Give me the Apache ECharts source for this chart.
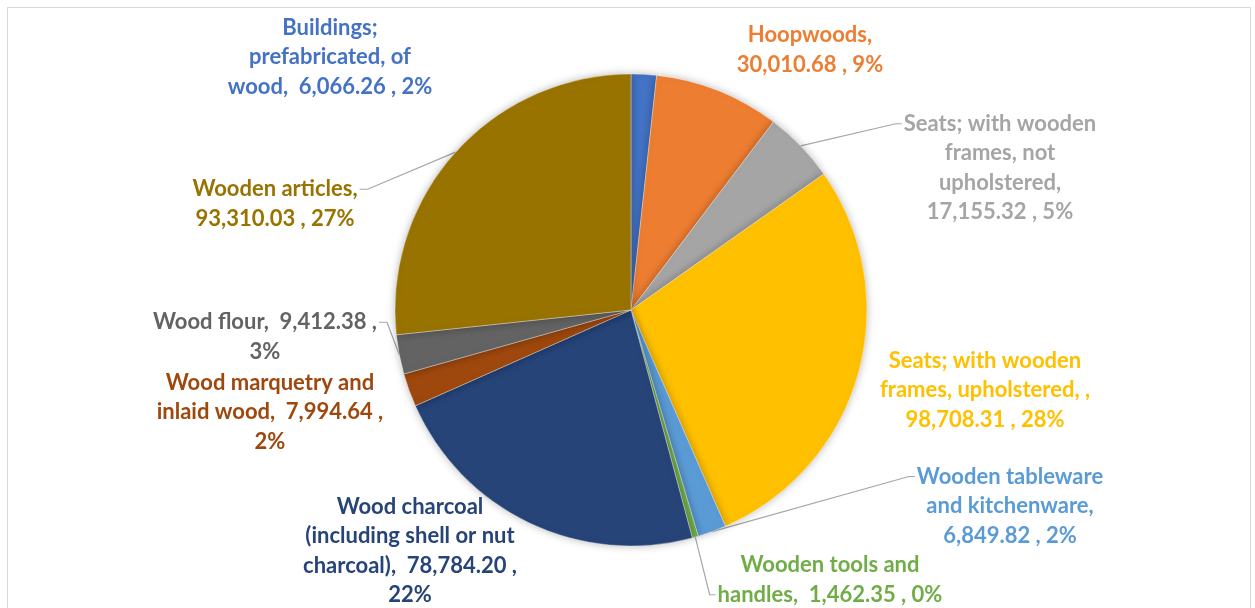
<!DOCTYPE html>
<html>
<head>
<meta charset="utf-8">
<style>
  html, body { margin: 0; padding: 0; background: #fff; }
  #frame { position: absolute; left: 7px; top: 7px; width: 1244px; height: 620px; border: 1px solid #d9d9d9; box-sizing: border-box; }
  #chart { position: absolute; left: 0; top: 0; width: 1255px; height: 608px; }
</style>
<script src="https://cdn.jsdelivr.net/npm/echarts@6/dist/echarts.min.js"></script>
</head>
<body>
<div id="frame"></div>
<div id="chart"></div>
<script>
// Wood products, value and share by category (clockwise from 12 o'clock)
const categories = [
  'Buildings; prefabricated, of wood',
  'Hoopwoods',
  'Seats; with wooden frames, not upholstered',
  'Seats; with wooden frames, upholstered,',
  'Wooden tableware and kitchenware',
  'Wooden tools and handles',
  'Wood charcoal (including shell or nut charcoal)',
  'Wood marquetry and inlaid wood',
  'Wood flour',
  'Wooden articles'
];
const values = [6066.26, 30010.68, 17155.32, 98708.31, 6849.82, 1462.35, 78784.20, 7994.64, 9412.38, 93310.03];
const colors = ['#4472C4', '#ED7D31', '#A5A5A5', '#FFC000', '#5B9BD5', '#70AD47', '#264478', '#9E480E', '#636363', '#997300'];

// Label wording with line breaks; {v} = value, {p} = percent
const labelTemplates = [
  'Buildings;\nprefabricated, of\nwood,  {v} , {p}%',
  'Hoopwoods,\n{v} , {p}%',
  'Seats; with wooden\nframes, not\nupholstered,\n{v} , {p}%',
  'Seats; with wooden\nframes, upholstered, ,\n{v} , {p}%',
  'Wooden tableware\nand kitchenware,\n{v} , {p}%',
  'Wooden tools and\nhandles,  {v} , {p}%',
  'Wood charcoal\n(including shell or nut\ncharcoal),  {v} ,\n{p}%',
  'Wood marquetry and\ninlaid wood,  {v} ,\n{p}%',
  'Wood flour,  {v} ,\n{p}%',
  'Wooden articles,\n{v} , {p}%'
];
// Label centre points (px)
const labelAnchors = [
  [330, 57], [810, 50], [1000, 168], [985, 390], [1010, 506],
  [830, 580], [410, 551], [270, 412], [265, 337], [275, 204]
];
// Leader line: which side of the label it meets and on which text line (null = no line)
const leaderAttach = [null, null, ['left', 0], null, ['left', 0], ['left', 1], null, null, ['right', 0], ['right', 0]];

const LINE_H = 29.5;
const fmt = v => v.toLocaleString('en-US', { minimumFractionDigits: 2, maximumFractionDigits: 2 });

const chart = echarts.init(document.getElementById('chart'), null, { renderer: 'canvas' });
chart.setOption({
  animation: false,
  series: [{
    type: 'pie',
    center: [631, 310],
    radius: 236,
    startAngle: 90,
    clockwise: true,
    percentPrecision: 0,
    avoidLabelOverlap: false,
    data: categories.map((name, i) => ({
      name,
      value: values[i],
      itemStyle: { color: colors[i] },
      label: { color: colors[i] },
      labelLine: { show: leaderAttach[i] !== null }
    })),
    itemStyle: {
      borderColor: 'rgba(255,255,255,0.6)',
      borderWidth: 0.6,
      shadowBlur: 8,
      shadowColor: 'rgba(0,0,0,0.28)'
    },
    label: {
      show: true,
      position: 'outside',
      fontFamily: 'Lato',
      fontWeight: 'bold',
      fontSize: 22,
      lineHeight: LINE_H,
      align: 'center',
      verticalAlign: 'middle',
      formatter: p => labelTemplates[p.dataIndex]
        .replace('{v}', fmt(p.value))
        .replace('{p}', p.percent)
    },
    labelLine: {
      show: true,
      length: 10,
      length2: 10,
      smooth: false,
      lineStyle: { color: '#A6A6A6', width: 1.2 }
    },
    labelLayout: params => {
      const i = params.dataIndex;
      const [cx, cy] = labelAnchors[i];
      const out = { x: cx, y: cy, align: 'center', verticalAlign: 'middle', moveOverlap: false };
      const att = leaderAttach[i];
      if (att && params.labelLinePoints) {
        const r = params.labelRect;
        const top = cy - r.height / 2;
        const ly = top + LINE_H * (att[1] + 0.5);
        const ex = att[0] === 'left' ? cx - r.width / 2 - 2 : cx + r.width / 2 + 2;
        const bx = att[0] === 'left' ? ex - 6 : ex + 8;
        out.labelLinePoints = [params.labelLinePoints[0], [bx, ly], [ex, ly]];
      }
      return out;
    }
  }]
});
</script>
</body>
</html>
